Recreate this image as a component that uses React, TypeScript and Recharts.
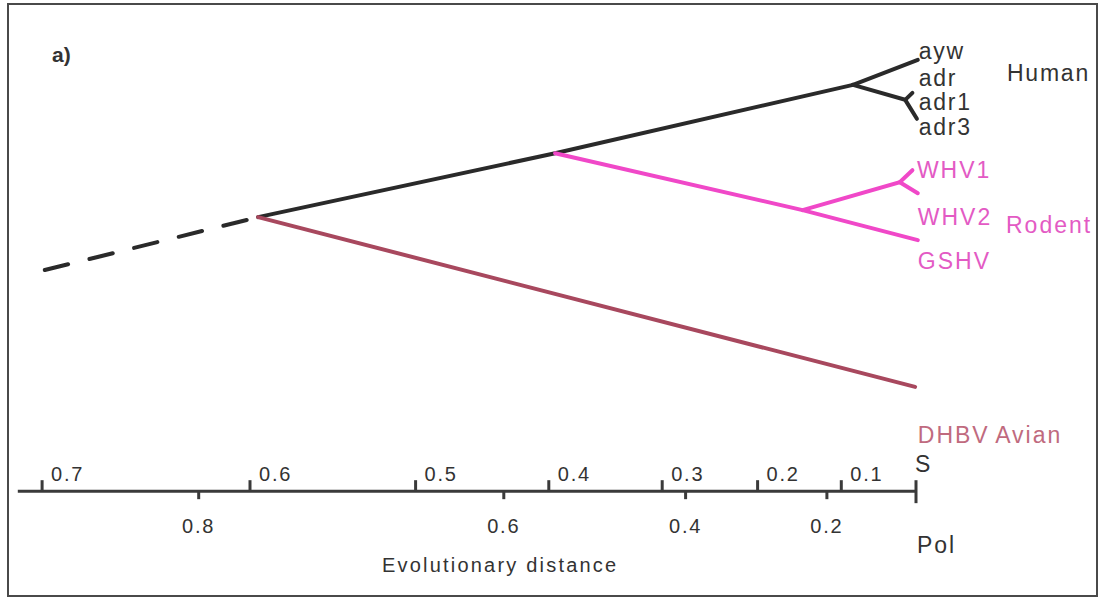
import { ComposedChart, Line, Scatter, XAxis, YAxis, ReferenceLine } from "recharts";

const FONT = "'Liberation Sans', Arial, sans-serif";
const INK = "#333333";
const HUMAN = "#2a2a2a";
const RODENT = "#f048c8";
const RODENT_TEXT = "#e35ac4";
const AVIAN = "#a8485e";
const AVIAN_TEXT = "#c06a7e";

// x: position along the distance scale (0 = present-day tips), y: vertical layout row
const stemDashed = [{ x: 0.968, y: 54.1 }, { x: 0.731, y: 43.5 }];
const humanTrunk = [{ x: 0.731, y: 43.5 }, { x: 0.401, y: 30.7 }, { x: 0.07, y: 17.0 }];
const humanAyw = [{ x: 0.07, y: 17.0 }, { x: -0.002, y: 12.0 }];
const humanAdr = [{ x: 0.07, y: 17.0 }, { x: 0.012, y: 20.0 }, { x: -0.001, y: 23.8 }];
const humanAdrStub = [{ x: 0.012, y: 20.0 }, { x: 0.004, y: 18.6 }];
const rodentTrunk = [{ x: 0.401, y: 30.7 }, { x: 0.126, y: 42.1 }, { x: -0.002, y: 48.1 }];
const rodentWhv = [{ x: 0.126, y: 42.1 }, { x: 0.018, y: 36.5 }, { x: 0.004, y: 34.1 }];
const rodentWhv2 = [{ x: 0.018, y: 36.5 }, { x: -0.002, y: 38.7 }];
const avianBranch = [{ x: 0.731, y: 43.5 }, { x: 0.001, y: 77.5 }];

// distance scales (S gene above the axis, Pol below)
const sTickLabels = ["0.7", "0.6", "0.5", "0.4", "0.3", "0.2", "0.1"];
const sTickPos = [0.971, 0.74, 0.556, 0.408, 0.282, 0.176, 0.083];
const polTickLabels = ["0.8", "0.6", "0.4", "0.2"];
const polTickPos = [0.797, 0.458, 0.256, 0.099];
const AXIS_Y = 98.4;

// strain / host labels
const humanNames = ["ayw", "adr", "adr1", "adr3", "Human"];
const humanNameX = [-0.003, -0.003, -0.003, -0.003, -0.101];
const humanNameY = [11.8, 17.2, 22.0, 27.0, 16.2];
const rodentNames = ["WHV1", "WHV2", "GSHV", "Rodent"];
const rodentNameX = [-0.001, -0.002, -0.002, -0.1];
const rodentNameY = [35.6, 45.1, 53.9, 46.7];
const avianNames = ["DHBV", "Avian"];
const avianNameX = [-0.002, -0.088];
const avianNameY = [88.8, 88.8];

const otherTexts = ["a)", "S", "Pol", "Evolutionary distance"];
const otherX = [0.96, 0.001, -0.001, 0.462];
const otherY = [12.4, 94.6, 110.8, 114.6];

const zip = (names: string[], xs: number[], ys: number[]) =>
  names.map((name, i) => ({ x: xs[i], y: ys[i], name }));

const textShape = (fill: string, size: number, spacing: number) => (p: any) => (
  <text
    x={p.cx}
    y={p.cy}
    fill={fill}
    fontSize={size}
    fontFamily={FONT}
    letterSpacing={spacing}
  >
    {p.payload.name}
  </text>
);

const otherShape = (p: any) => {
  const name = p.payload.name;
  if (name === "a)")
    return (
      <text x={p.cx} y={p.cy} fill={INK} fontSize={21} fontWeight="bold" fontFamily={FONT}>
        {name}
      </text>
    );
  const mid = name === "Evolutionary distance";
  return (
    <text
      x={p.cx}
      y={p.cy}
      fill={INK}
      fontSize={mid ? 20 : 23}
      fontFamily={FONT}
      letterSpacing={mid ? 2.2 : 2}
      textAnchor={mid ? "middle" : "start"}
    >
      {name}
    </text>
  );
};

const sTickShape = (p: any) => (
  <g>
    <line x1={p.cx} x2={p.cx} y1={p.cy} y2={p.cy - 11} stroke="#3a3a3a" strokeWidth={3} />
    <text x={p.cx + 9} y={p.cy - 10} fill={INK} fontSize={20} fontFamily={FONT} letterSpacing={1.8}>
      {p.payload.name}
    </text>
  </g>
);

const polTickShape = (p: any) => (
  <g>
    <line x1={p.cx} x2={p.cx} y1={p.cy} y2={p.cy + 8} stroke="#3a3a3a" strokeWidth={3} />
    <text
      x={p.cx}
      y={p.cy + 42}
      fill={INK}
      fontSize={20}
      fontFamily={FONT}
      letterSpacing={1.8}
      textAnchor="middle"
    >
      {p.payload.name}
    </text>
  </g>
);

const branch = (data: { x: number; y: number }[], color: string, key: string, dash?: string) => (
  <Line
    key={key}
    data={data}
    dataKey="y"
    stroke={color}
    strokeWidth={4}
    strokeDasharray={dash}
    strokeLinecap="round"
    dot={false}
    activeDot={false}
    isAnimationActive={false}
  />
);

export default function App() {
  return (
    <div style={{ position: "absolute", left: 0, top: 0, width: 1100, height: 599, background: "#fff" }}>
      <div
        style={{
          position: "absolute",
          left: 7,
          top: 3,
          width: 1091,
          height: 594,
          border: "2px solid #4a4a4a",
          boxSizing: "border-box",
        }}
      />
      <div style={{ position: "absolute", left: 0, top: 0 }}>
        <ComposedChart width={1100} height={599} margin={{ top: 0, right: 4, bottom: 0, left: 16 }}>
          <XAxis type="number" dataKey="x" domain={[-0.2, 1.0]} reversed hide />
          <YAxis type="number" domain={[0, 120]} reversed hide />
          {branch(stemDashed, HUMAN, "stem", "24 22")}
          {branch(humanTrunk, HUMAN, "ht")}
          {branch(humanAyw, HUMAN, "ha")}
          {branch(humanAdr, HUMAN, "hd")}
          {branch(humanAdrStub, HUMAN, "hs")}
          {branch(rodentTrunk, RODENT, "rt")}
          {branch(rodentWhv, RODENT, "rw")}
          {branch(rodentWhv2, RODENT, "rw2")}
          {branch(avianBranch, AVIAN, "av")}
          <ReferenceLine
            segment={[{ x: 0.998, y: AXIS_Y }, { x: 0, y: AXIS_Y }]}
            stroke="#3a3a3a"
            strokeWidth={3}
          />
          <ReferenceLine
            segment={[{ x: 0, y: 96.2 }, { x: 0, y: 100.8 }]}
            stroke="#3a3a3a"
            strokeWidth={3}
          />
          <Scatter
            data={zip(sTickLabels, sTickPos, sTickLabels.map(() => AXIS_Y))}
            dataKey="y"
            shape={sTickShape}
            isAnimationActive={false}
          />
          <Scatter
            data={zip(polTickLabels, polTickPos, polTickLabels.map(() => AXIS_Y))}
            dataKey="y"
            shape={polTickShape}
            isAnimationActive={false}
          />
          <Scatter
            data={zip(humanNames, humanNameX, humanNameY)}
            dataKey="y"
            shape={textShape(INK, 23, 1.8)}
            isAnimationActive={false}
          />
          <Scatter
            data={zip(rodentNames, rodentNameX, rodentNameY)}
            dataKey="y"
            shape={textShape(RODENT_TEXT, 23, 2)}
            isAnimationActive={false}
          />
          <Scatter
            data={zip(avianNames, avianNameX, avianNameY)}
            dataKey="y"
            shape={textShape(AVIAN_TEXT, 23, 2)}
            isAnimationActive={false}
          />
          <Scatter
            data={zip(otherTexts, otherX, otherY)}
            dataKey="y"
            shape={otherShape}
            isAnimationActive={false}
          />
        </ComposedChart>
      </div>
    </div>
  );
}
